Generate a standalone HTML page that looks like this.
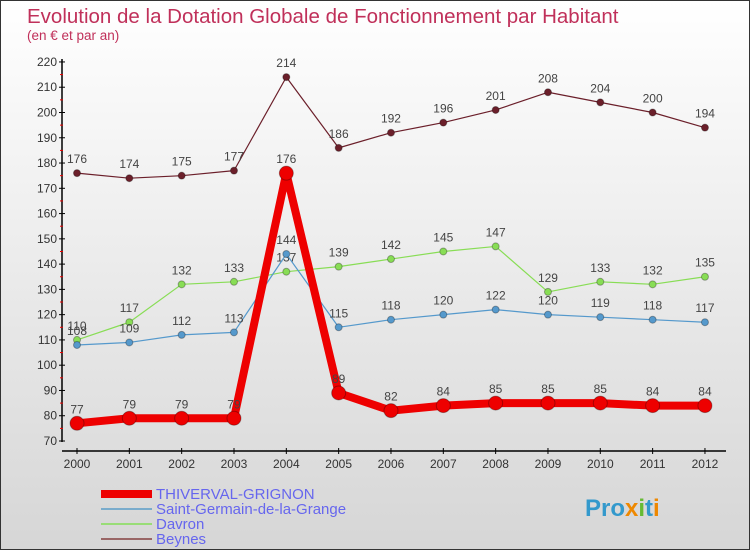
<!DOCTYPE html>
<html><head><meta charset="utf-8"><style>
body{margin:0}
#c{width:750px;height:550px;position:relative;font-family:"Liberation Sans",sans-serif;background:linear-gradient(#ffffff,#d6d6d6);box-sizing:border-box;border:1px solid #333;overflow:hidden}
</style></head><body>
<div id="c">
<svg id="s" width="750" height="550" style="position:absolute;left:0;top:0">
<text x="26" y="22" font-size="20.5" fill="#c0305a">Evolution de la Dotation Globale de Fonctionnement par Habitant</text>
<text x="26" y="39" font-size="13.5" fill="#c0305a">(en € et par an)</text>
</svg>
</div>
<script>
const years=["2000","2001","2002","2003","2004","2005","2006","2007","2008","2009","2010","2011","2012"];
const thiverval=[77,79,79,79,176,89,82,84,85,85,85,84,84];
const stgermain=[108,109,112,113,144,115,118,120,122,120,119,118,117];
const davron=[110,117,132,133,137,139,142,145,147,129,133,132,135];
const beynes=[176,174,175,177,214,186,192,196,201,208,204,200,194];
const yTicks=[70,80,90,100,110,120,130,140,150,160,170,180,190,200,210,220];
const svg=document.getElementById('s');const NS='http://www.w3.org/2000/svg';
function X(i){return 76+i*52.33;}
function Y(v){return 440-(v-70)*2.527;}
function mk(t,a,p){const e=document.createElementNS(NS,t);for(const k in a)e.setAttribute(k,a[k]);(p||svg).appendChild(e);return e;}
let ax=mk('line',{x1:61,y1:58,x2:61,y2:441,stroke:'#000','stroke-width':1.5});


yTicks.forEach(v=>{
 mk('line',{x1:58,x2:64,y1:Y(v),y2:Y(v),stroke:'#000'});
 if(v<220)mk('line',{x1:59,x2:62,y1:Y(v+5),y2:Y(v+5),stroke:'#e00'});
 const t=mk('text',{x:56,y:Y(v)+4,'font-size':12,'text-anchor':'end',fill:'#333'});t.textContent=v;
 
 
});
let xa=mk('line',{x1:61,y1:450,x2:725,y2:450,stroke:'#000','stroke-width':1.5});


years.forEach((y,i)=>{
 mk('line',{x1:X(i),x2:X(i),y1:447,y2:453,stroke:'#000'});
 const t=mk('text',{x:X(i),y:467,'font-size':12,'text-anchor':'middle',fill:'#333'});t.textContent=y;
 
 
});
function series(d,color,w,r,name){
 const g=mk('g',{});
 
 
 mk('polyline',{points:d.map((v,i)=>X(i)+','+Y(v)).join(' '),fill:'none',stroke:color,'stroke-width':w,'stroke-linejoin':'round'},g);
 d.forEach((v,i)=>{
  const c=mk('circle',{cx:X(i),cy:Y(v),r:r,fill:color,stroke:'rgba(0,0,0,0.3)'},g);
  
  
  const t=mk('text',{x:X(i),y:Y(v)-10,'font-size':12,'text-anchor':'middle',fill:'#444'},g);t.textContent=v;
 });
}
series(beynes,'#6b1f2a',1.2,3.5,'series-beynes');
series(davron,'#88dd55',1.2,3.5,'series-davron');
series(stgermain,'#5599cc',1.2,3.5,'series-saint-germain');
series(thiverval,'#ee0000',8,7,'series-thiverval');
const leg=[['THIVERVAL-GRIGNON','#ee0000',8],['Saint-Germain-de-la-Grange','#7aaccc',2],['Davron','#99dd77',2],['Beynes','#996666',2]];
leg.forEach((l,i)=>{
 const y=493+i*15;
 const g=mk('g',{});
 
 
 mk('line',{x1:100,x2:151,y1:y,y2:y,stroke:l[1],'stroke-width':l[2]},g);
 const t=mk('text',{x:155,y:y+5,'font-size':15,fill:'#6666ee'},g);t.textContent=l[0];
});
const lg=mk('text',{x:584,y:515,'font-size':24,'font-weight':'bold',fill:'#3399cc'});


lg.innerHTML='Pro<tspan fill="#ee8800">x</tspan><tspan fill="#66bb33">i</tspan>t<tspan fill="#ee8800">i</tspan>';
</script>
</body></html>
